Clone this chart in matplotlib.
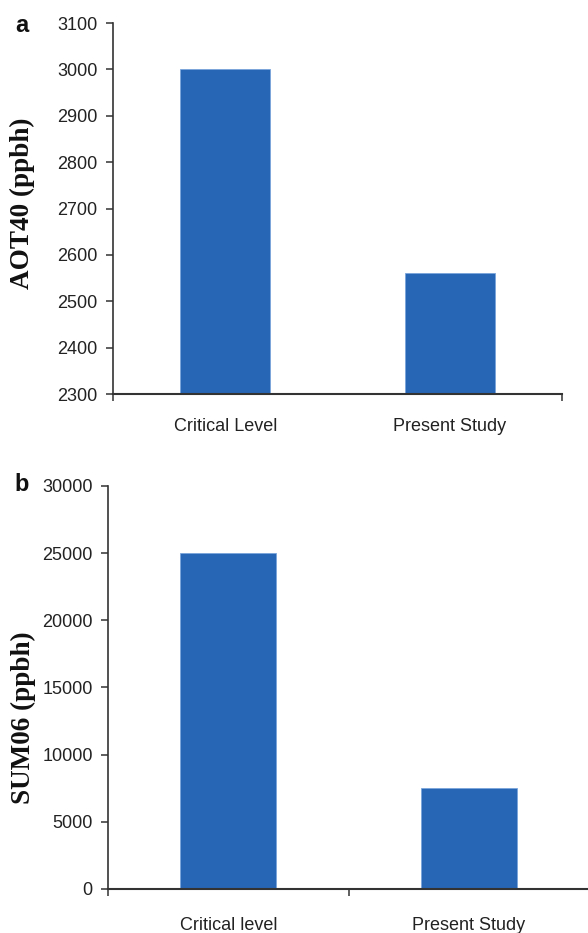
import matplotlib
matplotlib.use("Agg")
import matplotlib.pyplot as plt
import numpy as np

# AOT40 and SUM06 exposure indices: critical level vs. measured
categories_a = ["Critical Level", "Present Study"]
aot40_ppbh = [3000, 2560]

categories_b = ["Critical level", "Present Study"]
sum06_ppbh = [25000, 7500]

bar_color = "#2766b4"
edge_color = "#7aa6dc"
axis_color = "#333333"
text_color = "#222222"

plt.rcParams["font.family"] = ["Liberation Sans", "DejaVu Sans"]

fig = plt.figure(figsize=(5.88, 9.33), dpi=100)
ax_a = fig.add_axes([0.1922, 0.5777, 0.7636, 0.3976])
ax_b = fig.add_axes([0.1837, 0.0472, 0.8180, 0.4319])


def style_panel(ax, cats, values, ylim, yticks, boundary_ticks, label_pad):
    x = np.arange(len(cats))
    ax.bar(x, values, width=0.4, color=bar_color, edgecolor=edge_color,
           linewidth=0.6, zorder=2)
    ax.set_xlim(-0.5, len(cats) - 0.5)
    ax.set_ylim(*ylim)
    ax.set_yticks(yticks)
    ax.set_xticks(x)
    ax.set_xticklabels(cats)
    ax.set_xticks(boundary_ticks, minor=True)

    for side in ("top", "right"):
        ax.spines[side].set_visible(False)
    ax.spines["left"].set_color(axis_color)
    ax.spines["left"].set_linewidth(1.2)
    ax.spines["bottom"].set_color(axis_color)
    ax.spines["bottom"].set_linewidth(1.5)
    ax.spines["bottom"].set_zorder(3)

    ax.tick_params(axis="y", direction="out", length=5, width=1.1,
                   color=axis_color, labelsize=13, labelcolor=text_color, pad=6)
    ax.tick_params(axis="x", which="major", length=0, labelsize=13,
                   labelcolor=text_color, pad=label_pad)
    ax.tick_params(axis="x", which="minor", direction="out", length=5,
                   width=1.1, color=axis_color)


style_panel(ax_a, categories_a, aot40_ppbh, (2300, 3100),
            np.arange(2300, 3101, 100), [-0.5, 1.5], 17)
style_panel(ax_b, categories_b, sum06_ppbh, (0, 30000),
            np.arange(0, 30001, 5000), [-0.5, 0.5, 1.5], 20)

# y-axis titles placed in figure coordinates so they sit at the left edge
serif = ["Liberation Serif", "DejaVu Serif"]
fig.text(22 / 588, 1 - 203 / 933, "AOT40 (ppbh)", rotation=90, fontsize=19.5,
         fontweight="bold", family=serif, ha="center", va="center", color="#111111")
fig.text(23 / 588, 1 - 718 / 933, "SUM06 (ppbh)", rotation=90, fontsize=19.5,
         fontweight="bold", family=serif, ha="center", va="center", color="#111111")

fig.text(21.5 / 588, 1 - 25 / 933, "a", fontsize=17, fontweight="bold",
         ha="center", va="center", color="#111111")
fig.text(22 / 588, 1 - 485 / 933, "b", fontsize=17, fontweight="bold",
         ha="center", va="center", color="#111111")

fig.savefig("out.png", dpi=100, facecolor="white")
